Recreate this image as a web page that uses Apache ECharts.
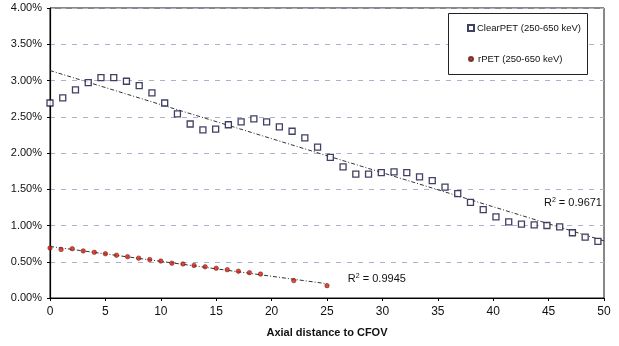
<!DOCTYPE html>
<html>
<head>
<meta charset="utf-8">
<script src="https://cdn.jsdelivr.net/npm/echarts@6/dist/echarts.min.js"></script>
<style>
  html, body { margin: 0; padding: 0; background: #fff; }
  #chart { width: 619px; height: 346px; }
</style>
</head>
<body>
<div id="chart"></div>
<script>
// axial distance (mm) and fraction of randoms (%)
const clearX = [0, 1.15, 2.3, 3.45, 4.6, 5.75, 6.9, 8.05, 9.2, 10.35, 11.5, 12.65, 13.8, 14.95, 16.1,
  17.25, 18.4, 19.55, 20.7, 21.85, 23, 24.15, 25.3, 26.45, 27.6, 28.75, 29.9, 31.05, 32.2, 33.35,
  34.5, 35.65, 36.8, 37.95, 39.1, 40.25, 41.4, 42.55, 43.7, 44.85, 46, 47.15, 48.3, 49.45];
const clearY = [2.69, 2.76, 2.87, 2.97, 3.04, 3.04, 2.99, 2.93, 2.83, 2.69, 2.54, 2.40, 2.32, 2.33, 2.39,
  2.43, 2.47, 2.43, 2.36, 2.30, 2.21, 2.08, 1.94, 1.81, 1.71, 1.71, 1.73, 1.74, 1.73, 1.67,
  1.62, 1.53, 1.44, 1.32, 1.22, 1.12, 1.05, 1.02, 1.01, 1.00, 0.98, 0.90, 0.84, 0.78];
const rpetX = [0, 1, 2, 3, 4, 5, 6, 7, 8, 9, 10, 11, 12, 13, 14, 15, 16, 17, 18, 19, 22, 25];
const rpetY = [0.69, 0.67, 0.68, 0.65, 0.63, 0.61, 0.59, 0.57, 0.55, 0.53, 0.51, 0.48, 0.47, 0.45, 0.43,
  0.41, 0.39, 0.37, 0.35, 0.33, 0.24, 0.17];
const clearName = 'ClearPET (250-650 keV)';
const rpetName = 'rPET (250-650 keV)';
const clearR2 = '0.9671';
const rpetR2 = '0.9945';

// least squares line through the points, drawn between x0 and x1
function trend(xs, ys, x0, x1) {
  const n = xs.length;
  let sx = 0, sy = 0, sxx = 0, sxy = 0;
  for (let i = 0; i < n; i++) {
    sx += xs[i]; sy += ys[i]; sxx += xs[i] * xs[i]; sxy += xs[i] * ys[i];
  }
  const b = (n * sxy - sx * sy) / (n * sxx - sx * sx);
  const a = (sy - b * sx) / n;
  return [[x0, a + b * x0], [x1, a + b * x1]];
}

const font = 'Liberation Sans, Arial, sans-serif';
const r2Rich = {
  a: { fontSize: 11, color: '#111', fontFamily: font },
  s: { fontSize: 7, color: '#111', fontFamily: font, padding: [0, 0, 6, 0] }
};
const trendStyle = { color: '#333', width: 1, type: [4, 2, 1, 2] };

const chart = echarts.init(document.getElementById('chart'), null, { renderer: 'canvas' });
const option = {
  animation: false,
  backgroundColor: '#fff',
  textStyle: { fontFamily: font },
  grid: {
    left: 50, right: 15, top: 8, bottom: 48,
    show: true, borderColor: '#111', borderWidth: 1
  },
  xAxis: {
    type: 'value', min: 0, max: 50, interval: 5,
    name: 'Axial distance to CFOV', nameLocation: 'middle', nameGap: 29,
    nameTextStyle: { fontSize: 11, fontWeight: 'bold', color: '#111', fontFamily: font },
    axisLine: { lineStyle: { color: '#000', width: 1.2 } },
    axisTick: { show: true, length: 3, lineStyle: { color: '#000' } },
    axisLabel: { fontSize: 12, color: '#111', margin: 8 },
    splitLine: { show: false }
  },
  yAxis: {
    type: 'value', min: 0, max: 4, interval: 0.5,
    axisLine: { show: true, lineStyle: { color: '#000', width: 1.2 } },
    axisTick: { show: true, length: 3, lineStyle: { color: '#000' } },
    axisLabel: { fontSize: 11, color: '#111', margin: 8, formatter: v => v.toFixed(2) + '%' },
    splitLine: { show: true, lineStyle: { color: '#b0b0cc', width: 1, type: [5, 6] } }
  },
  graphic: [{
    type: 'rect', z: 10,
    shape: { x: 448.5, y: 13.5, width: 139, height: 61 },
    style: { fill: '#fff', stroke: '#222', lineWidth: 1 }
  }],
  legend: [{
    z: 20, left: 467, top: 23, padding: 0, itemWidth: 6, itemHeight: 6, itemGap: 0,
    data: [{ name: clearName, icon: 'rect' }],
    textStyle: { fontSize: 9.5, color: '#111', padding: [0, 0, 0, -2] }
  }, {
    z: 20, left: 468, top: 54, padding: 0, itemWidth: 4, itemHeight: 4, itemGap: 0,
    data: [{ name: rpetName, icon: 'circle' }],
    textStyle: { fontSize: 9.5, color: '#111', padding: [0, 0, 0, 0] }
  }],
  series: [{
    name: clearName + ' trend', type: 'line', symbol: 'none', silent: true,
    data: trend(clearX, clearY, 0, 50), lineStyle: trendStyle, z: 2,
    markPoint: {
      symbol: 'circle', symbolSize: 0,
      data: [{ coord: [47.2, 1.31] }],
      label: { show: true, formatter: '{a|R}{s|2}{a| = ' + clearR2 + '}', rich: r2Rich }
    }
  }, {
    name: rpetName + ' trend', type: 'line', symbol: 'none', silent: true,
    data: trend(rpetX, rpetY, 0, 25), lineStyle: trendStyle, z: 2,
    markPoint: {
      symbol: 'circle', symbolSize: 0,
      data: [{ coord: [29.5, 0.26] }],
      label: { show: true, formatter: '{a|R}{s|2}{a| = ' + rpetR2 + '}', rich: r2Rich }
    }
  }, {
    name: clearName, type: 'scatter', symbol: 'rect', symbolSize: 6, z: 3,
    data: clearX.map((x, i) => [x, clearY[i]]),
    itemStyle: { color: '#fff', borderColor: '#10103c', borderWidth: 1.3 }
  }, {
    name: rpetName, type: 'scatter', symbol: 'circle', symbolSize: 4.5, z: 3,
    data: rpetX.map((x, i) => [x, rpetY[i]]),
    itemStyle: { color: '#d41a0c', borderColor: '#5a140c', borderWidth: 0.6 }
  }]
};
chart.setOption(option);
</script>
</body>
</html>
